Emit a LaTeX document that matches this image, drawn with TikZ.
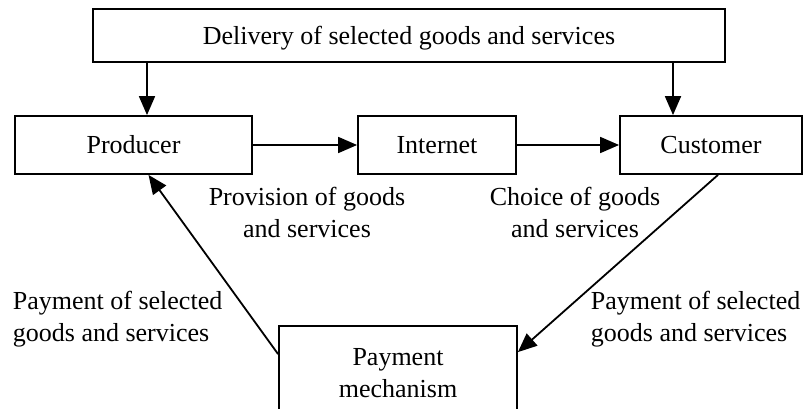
\documentclass[tikz,border=0pt]{standalone}
\usepackage{fontspec}
\setmainfont{Liberation Serif}
\usetikzlibrary{arrows.meta,calc}

\begin{document}
\begin{tikzpicture}[x=1pt, y=-1pt, line width = 1.8pt,
  box/.style={draw, rectangle, inner sep=0pt, align=center},
  flow/.style={-{Triangle[length=19pt,width=16pt]}},
  txt/.style={inner sep=0pt, align=center},
  every node/.style={font=\fontsize{26}{32}\selectfont}]

\clip (0,0) rectangle (803,409);

\node [box, minimum width=632, minimum height=53, text depth=0pt] (deliv) at (409,35.5) {Delivery of selected goods and services};

\node [box, minimum width=237, minimum height=58] (prod) at (133.5,145) {Producer};
\node [box, minimum width=158, minimum height=58] (inet) at (437,145) {Internet};
\node [box, minimum width=182, minimum height=58] (cust) at (711,145) {Customer};
\node [box, minimum width=238, minimum height=94] (pay) at (398,373) {Payment\\mechanism};

\coordinate (dl) at (147,0);
\coordinate (dr) at (673,0);
\draw [flow] (deliv.south -| dl) -- (prod.north -| dl);
\draw [flow] (deliv.south -| dr) -- (cust.north -| dr);

\draw [flow] (prod) -- (inet);
\draw [flow] (inet) -- (cust);

\draw [flow] ($(pay.north west)+(0,29)$) -- ($(prod.south)+(15,0)$);
\draw [flow] ($(cust.south)+(7,0)$) -- ($(pay.north east)+(0,27)$);

\node [txt] (prov) at (307,212) {Provision of goods\\and services};
\node [txt] (choice) at (575,212) {Choice of goods\\and services};
\node [txt, align=left, anchor=west] (payl) at (12,319) {Payment of selected\\goods and services};
\node [txt, align=left, anchor=west] (payr) at (590,319) {Payment of selected\\goods and services};

\end{tikzpicture}
\end{document}
